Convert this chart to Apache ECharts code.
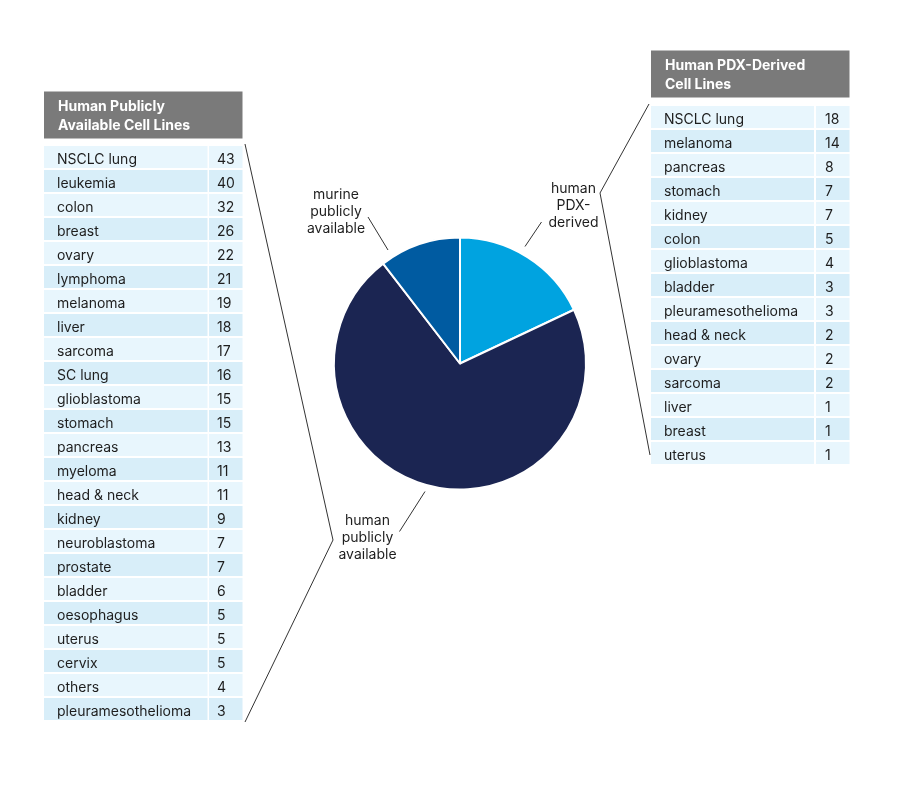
<!DOCTYPE html>
<html>
<head>
<meta charset="utf-8">
<script src="https://cdn.jsdelivr.net/npm/echarts@6/dist/echarts.min.js"></script>
<style>
  html, body { margin: 0; padding: 0; background: #ffffff; }
  #chart { width: 900px; height: 800px; }
</style>
</head>
<body>
<div id="chart"></div>
<script>
// ---- Data ----
const pieNames = ['human PDX-derived', 'human publicly available', 'murine publicly available'];
const pieValues = [93, 370, 54];

const publicTitle = 'Human Publicly\nAvailable Cell Lines';
const publicNames = ['NSCLC lung', 'leukemia', 'colon', 'breast', 'ovary', 'lymphoma', 'melanoma', 'liver', 'sarcoma', 'SC lung', 'glioblastoma', 'stomach', 'pancreas', 'myeloma', 'head & neck', 'kidney', 'neuroblastoma', 'prostate', 'bladder', 'oesophagus', 'uterus', 'cervix', 'others', 'pleuramesothelioma'];
const publicValues = [43, 40, 32, 26, 22, 21, 19, 18, 17, 16, 15, 15, 13, 11, 11, 9, 7, 7, 6, 5, 5, 5, 4, 3];

const pdxTitle = 'Human PDX-Derived\nCell Lines';
const pdxNames = ['NSCLC lung', 'melanoma', 'pancreas', 'stomach', 'kidney', 'colon', 'glioblastoma', 'bladder', 'pleuramesothelioma', 'head & neck', 'ovary', 'sarcoma', 'liver', 'breast', 'uterus'];
const pdxValues = [18, 14, 8, 7, 7, 5, 4, 3, 3, 2, 2, 2, 1, 1, 1];

// ---- Styles / layout ----
const FONT = 'Inter, "Noto Sans", sans-serif';
const TEXT_COLOR = '#1e1e1e';
const LINE_COLOR = '#333333';
const pieColors = ['#00a3e0', '#1b2552', '#005ba1'];
const rowColors = ['#e8f6fd', '#d8eef9'];

function buildTable(x, headerY, headerH, rowsY, nameW, valX, valW, title, names, values, textPad, valPad) {
  const els = [];
  const totalW = valX + valW - x;
  els.push({ type: 'rect', shape: { x: x, y: headerY, width: totalW, height: headerH }, style: { fill: '#7a7a7a' } });
  els.push({ type: 'text', x: x + textPad, y: headerY + headerH / 2 + 1.5, style: {
    text: title, fill: '#ffffff', font: 'bold 14px ' + FONT, lineHeight: 18.5,
    textAlign: 'left', textVerticalAlign: 'middle' } });
  const pitch = 24, h = 22;
  names.forEach(function (n, i) {
    const y = rowsY + i * pitch;
    const fill = rowColors[i % 2];
    els.push({ type: 'rect', shape: { x: x, y: y, width: nameW, height: h }, style: { fill: fill } });
    els.push({ type: 'rect', shape: { x: valX, y: y, width: valW, height: h }, style: { fill: fill } });
    els.push({ type: 'text', x: x + textPad - 1, y: y + h / 2 + 2.5, style: {
      text: n, fill: TEXT_COLOR, font: '14px ' + FONT, textAlign: 'left', textVerticalAlign: 'middle' } });
    els.push({ type: 'text', x: valX + valPad, y: y + h / 2 + 2.5, style: {
      text: String(values[i]), fill: TEXT_COLOR, font: '14px ' + FONT, textAlign: 'left', textVerticalAlign: 'middle' } });
  });
  return els;
}

function line(points) {
  return { type: 'polyline', shape: { points: points }, style: { stroke: LINE_COLOR, lineWidth: 1, fill: null } };
}

function label(text, cx, cy) {
  return { type: 'text', x: cx, y: cy, style: {
    text: text, fill: TEXT_COLOR, font: '14px ' + FONT, lineHeight: 17,
    textAlign: 'center', textVerticalAlign: 'middle' } };
}

const graphics = []
  .concat(buildTable(44, 91.5, 47, 146, 163.5, 209, 33.5, publicTitle, publicNames, publicValues, 14, 8))
  .concat(buildTable(651, 50.5, 47, 106, 163, 816, 33.5, pdxTitle, pdxNames, pdxValues, 14, 9))
  .concat([
    line([[245, 144], [333, 540], [245, 722]]),
    line([[649, 104], [600, 193], [650, 455]]),
    line([[368, 217], [388, 250]]),
    line([[541.5, 222], [525, 246.5]]),
    line([[425, 491.5], [399.5, 531.5]]),
    label('murine\npublicly\navailable', 336, 212),
    label('human\nPDX-\nderived', 573.5, 206),
    label('human\npublicly\navailable', 367.5, 537.5)
  ]);

const chart = echarts.init(document.getElementById('chart'), null, { renderer: 'canvas' });
chart.setOption({
  backgroundColor: '#ffffff',
  animation: false,
  series: [{
    type: 'pie',
    center: [460, 363.5],
    radius: 126,
    startAngle: 90,
    clockwise: true,
    label: { show: false },
    labelLine: { show: false },
    emphasis: { disabled: true },
    itemStyle: { borderColor: '#ffffff', borderWidth: 2 },
    data: pieNames.map(function (n, i) {
      return { name: n, value: pieValues[i], itemStyle: { color: pieColors[i] } };
    })
  }],
  graphic: { elements: graphics }
});
</script>
</body>
</html>
